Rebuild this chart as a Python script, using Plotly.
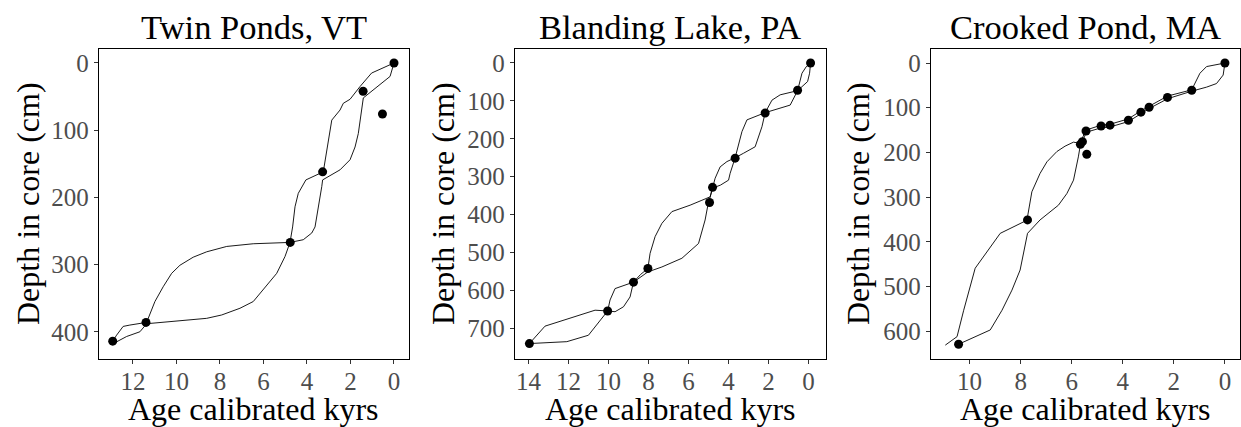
import plotly.graph_objects as go

# ---------------- Data ----------------
# Twin Ponds, VT
tp_pt_age = [0, 1.42, 0.53, 3.28, 4.77, 11.4, 12.93]
tp_pt_depth = [0, 42, 76, 162, 267, 386, 414]
tp_old_age = [0, 1.03, 1.56, 2.02, 2.33, 2.48, 2.86, 3.02, 3.17, 3.25, 4.05, 4.40, 4.55, 4.66, 4.78,
              6.47, 7.69, 8.61, 9.23, 9.84, 10.22, 10.61, 10.99, 11.37, 12.14, 12.45, 12.75, 12.95]
tp_old_depth = [0, 15, 35, 54, 60, 70, 85, 115, 144, 162, 174, 194, 214, 244, 267,
                269, 273, 281, 289, 301, 313, 333, 355, 386, 390, 392, 405, 415]
tp_young_age = [0, 0.18, 1.41, 1.49, 1.64, 1.79, 2.02, 2.48, 3.28, 3.32, 3.48, 3.63, 3.78, 4.17, 4.78,
                5.01, 5.39, 6.01, 6.47, 7.08, 7.92, 8.61, 10.15, 11.37, 11.68, 12.29, 12.93]
tp_young_depth = [0, 20, 52, 70, 105, 125, 144, 159, 174, 184, 214, 244, 253, 263, 267,
                  288, 313, 338, 355, 365, 375, 380, 385, 388, 400, 407, 418]

# Blanding Lake, PA
bl_pt_age = [-0.1, 0.55, 2.17, 3.67, 4.8, 4.95, 8.03, 8.75, 10.04, 13.95]
bl_pt_depth = [0, 72, 132, 251, 328, 368, 542, 578, 654, 740]
bl_old_age = [-0.1, 0.12, 0.33, 0.45, 0.55, 1.42, 1.83, 2.17, 3.08, 3.33, 3.58, 3.67, 4.08, 4.42, 4.67,
              4.8, 4.92, 5.33, 5.92, 6.83, 7.33, 7.67, 7.92, 8.03, 8.4, 8.75, 9.67, 9.92, 10.04,
              10.67, 13.17, 13.95]
bl_old_depth = [0, 10, 27, 54, 73, 84, 98, 131, 150, 181, 230, 250, 260, 274, 304,
                328, 353, 362, 375, 392, 423, 458, 502, 542, 558, 578, 595, 625, 654,
                652, 694, 740]
bl_young_age = [-0.1, -0.05, 0.05, 0.42, 0.55, 0.92, 2.17, 2.33, 2.67, 3.25, 3.67, 3.92, 4.0, 4.4,
                4.8, 4.95, 5.0, 5.17, 5.5, 6.33, 7.33, 8.03, 8.4, 8.75, 8.92, 9.25, 9.67, 10.04,
                11.0, 12.08, 13.95]
bl_young_depth = [0, 27, 49, 67, 73, 111, 131, 168, 221, 238, 250, 291, 309, 322,
                  330, 360, 366, 414, 476, 515, 538, 551, 565, 578, 617, 643, 656, 654,
                  718, 735, 740]

# Crooked Pond, MA
cp_pt_age = [0, 1.3, 2.25, 2.97, 3.29, 3.78, 4.5, 4.85, 5.44, 5.58, 5.66, 5.41, 7.73, 10.43]
cp_pt_depth = [0, 61, 77, 99, 110, 128, 139, 141, 152, 176, 182, 204, 351, 629]
cp_old_age = [0, 0.72, 0.98, 1.17, 1.3, 2.25, 2.97, 3.29, 3.78, 4.5, 4.85, 5.44, 5.6, 5.66,
              5.93, 6.26, 6.58, 6.97, 7.24, 7.56, 7.73, 7.73, 8.8, 9.78, 10.23, 10.49, 10.95]
cp_old_depth = [0, 8, 23, 46, 60, 74, 96, 107, 125, 137, 139, 150, 170, 180,
                177, 186, 198, 221, 247, 288, 344, 351, 381, 459, 553, 612, 631]
cp_young_age = [0, 0.07, 0.33, 0.72, 1.3, 2.25, 2.97, 3.29, 3.78, 4.5, 4.85, 5.44, 5.5, 5.66,
                5.74, 5.93, 6.19, 6.52, 7.24, 7.73, 8.02, 8.34, 8.73, 9.19, 10.43]
cp_young_depth = [0, 27, 46, 54, 63, 80, 102, 113, 131, 143, 145, 155, 165, 183,
                  210, 262, 292, 318, 351, 381, 463, 508, 553, 597, 629]

titles = ["Twin Ponds, VT", "Blanding Lake, PA", "Crooked Pond, MA"]
x_ranges = [[13.56, -0.69], [14.67, -0.87], [11.51, -0.59]]
y_ranges = [[440.5, -20.8], [780.7, -36.9], [662, -31.3]]
x_ticks = [[0, 2, 4, 6, 8, 10, 12], [0, 2, 4, 6, 8, 10, 12, 14], [0, 2, 4, 6, 8, 10]]
y_ticks = [[0, 100, 200, 300, 400], [0, 100, 200, 300, 400, 500, 600, 700],
           [0, 100, 200, 300, 400, 500, 600]]

panels = [
    (tp_pt_age, tp_pt_depth, tp_old_age, tp_old_depth, tp_young_age, tp_young_depth),
    (bl_pt_age, bl_pt_depth, bl_old_age, bl_old_depth, bl_young_age, bl_young_depth),
    (cp_pt_age, cp_pt_depth, cp_old_age, cp_old_depth, cp_young_age, cp_young_depth),
]

# ---------------- Layout geometry ----------------
W, H = 1241, 427
x_dom_px = [(99, 409), (515, 826), (931, 1240)]
y_dom_px = (49, 359)
ylab_x_px = [28, 443, 858]

FONT = "Liberation Serif"
fig = go.Figure()

for i, (pa, pd_, oa, od, ya, yd) in enumerate(panels):
    xr = "x" if i == 0 else f"x{i+1}"
    yr = "y" if i == 0 else f"y{i+1}"
    fig.add_trace(go.Scatter(x=oa, y=od, mode="lines", line=dict(color="black", width=0.9),
                             xaxis=xr, yaxis=yr, showlegend=False, hoverinfo="skip"))
    fig.add_trace(go.Scatter(x=ya, y=yd, mode="lines", line=dict(color="black", width=0.9),
                             xaxis=xr, yaxis=yr, showlegend=False, hoverinfo="skip"))
    fig.add_trace(go.Scatter(x=pa, y=pd_, mode="markers", marker=dict(color="black", size=9),
                             xaxis=xr, yaxis=yr, showlegend=False))

layout = dict(
    width=W, height=H,
    margin=dict(l=0, r=0, t=0, b=0),
    paper_bgcolor="white", plot_bgcolor="white",
    font=dict(family=FONT, color="black"),
    annotations=[],
)

ydom = [(H - y_dom_px[1]) / H, (H - y_dom_px[0]) / H]
for i in range(3):
    sx = "xaxis" if i == 0 else f"xaxis{i+1}"
    sy = "yaxis" if i == 0 else f"yaxis{i+1}"
    anchor_x = "y" if i == 0 else f"y{i+1}"
    anchor_y = "x" if i == 0 else f"x{i+1}"
    xd = [x_dom_px[i][0] / W, x_dom_px[i][1] / W]
    common = dict(showgrid=False, zeroline=False, showline=True, linecolor="black",
                  linewidth=1.3, mirror=True, ticks="outside", ticklen=4, tickwidth=1,
                  tickcolor="#333333", tickfont=dict(family=FONT, size=25, color="#4D4D4D"))
    layout[sx] = dict(domain=xd, anchor=anchor_x, range=x_ranges[i],
                      tickvals=x_ticks[i], ticklabelstandoff=-4, **common)
    layout[sy] = dict(domain=ydom, anchor=anchor_y, range=y_ranges[i],
                      tickvals=y_ticks[i], **common)
    cx = (xd[0] + xd[1]) / 2
    layout["annotations"].append(dict(text=titles[i], x=cx, y=(H - 27) / H, xref="paper", yref="paper",
                                      showarrow=False, xanchor="center", yanchor="middle",
                                      font=dict(family=FONT, size=34.5, color="black")))
    layout["annotations"].append(dict(text="Age calibrated kyrs", x=cx, y=(H - 409) / H,
                                      xref="paper", yref="paper", showarrow=False,
                                      xanchor="center", yanchor="middle",
                                      font=dict(family=FONT, size=32, color="black")))
    layout["annotations"].append(dict(text="Depth in core (cm)", x=ylab_x_px[i] / W,
                                      y=(H - 204) / H, xref="paper", yref="paper",
                                      showarrow=False, xanchor="center", yanchor="middle",
                                      textangle=-90,
                                      font=dict(family=FONT, size=32, color="black")))

fig.update_layout(**layout)
fig.write_html("out.html")
